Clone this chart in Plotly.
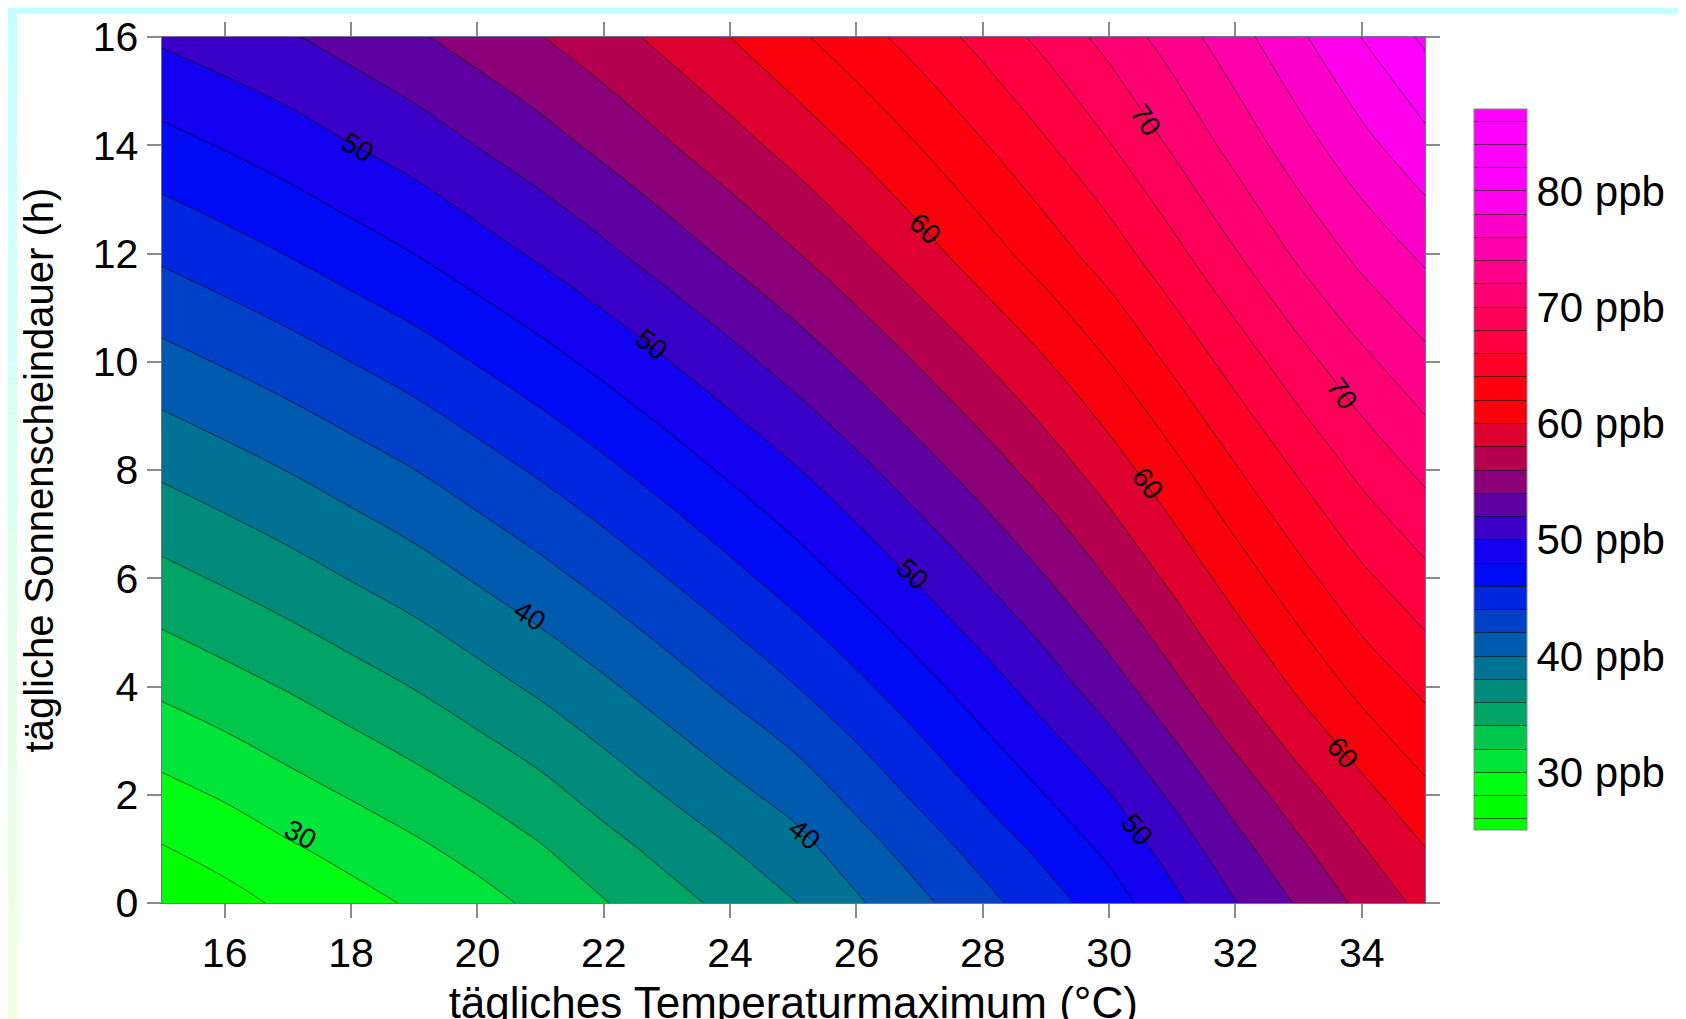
import plotly.graph_objects as go

FONT = "Liberation Sans"
W, H = 1686, 1019

# Axes values
temperature = list(range(15, 36))
sunshine = [0, 1, 2, 4, 6, 8, 10, 12, 14, 16]

z_00 = [26.5, 27.35, 28.36, 29.29, 30.25, 31.3, 32.47, 33.89, 35.23, 36.56, 37.88, 39.72, 41.55, 43.38, 45.17, 47.06, 49.45, 51.93, 54.23, 56.49, 58.6]
z_01 = [27.87, 28.72, 29.73, 30.66, 31.62, 32.67, 33.84, 35.26, 36.6, 37.93, 39.25, 41.09, 42.92, 44.75, 46.54, 48.43, 50.82, 53.3, 55.6, 57.86, 59.95]
z_02 = [29.36, 30.21, 31.22, 32.15, 33.11, 34.16, 35.33, 36.75, 38.09, 39.42, 40.74, 42.58, 44.41, 46.24, 48.03, 49.92, 52.31, 54.79, 57.09, 59.35, 61.5]
z_04 = [32.42, 33.27, 34.15, 35.11, 36.08, 37.22, 38.39, 39.66, 41.02, 42.44, 43.91, 45.53, 47.27, 49.07, 50.99, 53.11, 55.46, 57.93, 60.34, 62.61, 64.45]
z_06 = [35.4, 36.24, 37.12, 38.08, 39.05, 40.19, 41.36, 42.63, 43.99, 45.41, 46.88, 48.5, 50.24, 52.04, 53.96, 56.08, 58.43, 60.9, 63.31, 65.58, 67.45]
z_08 = [38.33, 39.17, 40.05, 41.01, 41.98, 43.12, 44.29, 45.56, 46.92, 48.34, 49.81, 51.43, 53.17, 54.97, 56.89, 59.01, 61.36, 63.83, 66.23, 68.51, 70.5]
z_10 = [41.33, 42.17, 43.05, 44.01, 44.98, 46.12, 47.29, 48.56, 49.92, 51.34, 52.81, 54.43, 56.17, 57.97, 59.89, 62.01, 64.36, 66.83, 69.23, 71.51, 73.45]
z_12 = [44.36, 45.2, 46.08, 47.04, 48.01, 49.15, 50.32, 51.59, 52.95, 54.37, 55.84, 57.46, 59.2, 61.1, 63.0, 65.0, 67.38, 69.87, 72.37, 74.58, 76.4]
z_14 = [47.33, 48.14, 49.0, 49.96, 50.9, 52.05, 53.2, 54.48, 55.82, 57.22, 58.7, 60.3, 62.04, 63.85, 65.78, 67.9, 70.25, 72.72, 75.15, 77.4, 79.4]
z_16 = [50.3, 51.05, 51.8, 52.74, 53.73, 54.82, 55.94, 57.16, 58.57, 60.0, 61.57, 63.17, 64.84, 66.65, 68.6, 70.67, 72.89, 75.25, 77.65, 80.05, 82.37]
z_rows = [z_00, z_01, z_02, z_04, z_06, z_08, z_10, z_12, z_14, z_16]

# Contour levels and band colours, lowest band first
level_start, level_end, level_step = 26, 86, 2
band_colors = [
    "#00ff00", "#00ff10", "#00e838", "#00cc48", "#00a860", "#009078",
    "#007890", "#0060a8", "#0048c0", "#0030d8", "#0010f0", "#0000ff",
    "#3000d8", "#4800b0", "#780090", "#a00060", "#c80040", "#f00020",
    "#ff0000", "#ff0018", "#ff0030", "#ff0048", "#ff0060", "#ff0078",
    "#ff0090", "#ff00b0", "#ff00d0", "#ff00f0", "#ff00ff", "#ff00ff",
]

cbar_ticks = [30, 40, 50, 60, 70, 80]
x_ticks = list(range(16, 36, 2))
y_ticks = list(range(0, 18, 2))

# In-line contour labels: value, temperature, sunshine, text angle
label_values = [30, 40, 40, 50, 50, 50, 50, 60, 60, 60, 70, 70]
label_x = [17.2, 20.82, 25.18, 18.11, 22.76, 26.88, 30.44, 27.09, 30.61, 33.69, 30.57, 33.69]
label_y = [1.27, 5.31, 1.27, 13.96, 10.32, 6.08, 1.35, 12.47, 7.75, 2.78, 14.47, 9.42]
label_angle = [28, 33, 38, 30, 37, 42, 50, 42, 52, 50, 55, 55]

# Colour scale nodes at band centres (plotly maps scale 0..1 to start-step/2 .. end+step/2+step/2)
span = (level_end - level_start) + 2 * level_step
colorscale = [[0, band_colors[0]]]
for i, c in enumerate(band_colors):
    mid = level_start + i * level_step + level_step / 2
    colorscale.append([(mid - (level_start - level_step / 2)) / span, c])
colorscale.append([1, band_colors[-1]])

fig = go.Figure()
fig.add_trace(go.Contour(
    x=temperature, y=sunshine, z=z_rows,
    contours=dict(start=level_start, end=level_end, size=level_step, coloring="fill", showlines=True),
    autocontour=False,
    colorscale=colorscale,
    line=dict(color="rgba(0,0,0,0.6)", width=1),
    colorbar=dict(
        x=1466 / W, xanchor="left", xpad=0, ypad=0,
        y=1 - 462 / H, yanchor="middle",
        thickness=53, thicknessmode="pixels",
        len=721 / H, lenmode="fraction",
        tickmode="array", tickvals=cbar_ticks, ticktext=[f"{v} ppb" for v in cbar_ticks],
        ticks="", tickfont=dict(family=FONT, size=42, color="black"),
        outlinecolor="#888888", outlinewidth=1,
    ),
    hoverinfo="skip",
))

axis_common = dict(
    ticks="outside", ticklen=14, tickwidth=1.5, tickcolor="#8a8a8a",
    showline=True, linecolor="#707090", linewidth=1, mirror="ticks",
    showgrid=False, zeroline=False,
    tickfont=dict(family=FONT, size=41, color="black"),
)

fig.update_layout(
    width=W, height=H, autosize=False,
    margin=dict(l=0, r=0, t=0, b=0, autoexpand=False),
    paper_bgcolor="white", plot_bgcolor="white",
    showlegend=False,
    xaxis=dict(
        domain=[153.5 / W, 1417 / W], range=[15, 35],
        tickmode="array", tickvals=x_ticks, automargin=False,
        title=dict(text="tägliches Temperaturmaximum (°C)", font=dict(family=FONT, size=44, color="black"), standoff=22),
        **axis_common,
    ),
    yaxis=dict(
        domain=[1 - 895 / H, 1 - 29 / H], range=[0, 16],
        tickmode="array", tickvals=y_ticks, automargin=False,
        title=dict(text="tägliche Sonnenscheindauer (h)", font=dict(family=FONT, size=40, color="black"), standoff=26),
        **axis_common,
    ),
)

# Page frame: a top strip and two side strips shading from cyan to pale yellow-green
top_rgb, bottom_rgb = (198, 255, 255), (240, 255, 222)
n_steps = 60
shapes = []
for k in range(n_steps):
    t = k / (n_steps - 1)
    col = "rgb({},{},{})".format(*[round(a + (b - a) * t) for a, b in zip(top_rgb, bottom_rgb)])
    y0, y1 = 1 - k / n_steps, 1 - (k + 1) / n_steps
    for x0, x1 in ((0, 9 / W), (1673 / W, 1)):
        shapes.append(dict(type="rect", xref="paper", yref="paper", x0=x0, x1=x1, y0=y0, y1=y1,
                           line=dict(width=0), fillcolor=col, layer="below"))
shapes.append(dict(type="rect", xref="paper", yref="paper", x0=0, x1=1, y0=1 - 6 / H, y1=1,
                   line=dict(width=0), fillcolor="rgb(198,255,255)", layer="below"))
fig.update_layout(shapes=shapes)

for v, x, y, a in zip(label_values, label_x, label_y, label_angle):
    fig.add_annotation(x=x, y=y, text=str(v), showarrow=False, textangle=a,
                       font=dict(family=FONT, size=28, color="black"))

fig.write_html("out.html")
